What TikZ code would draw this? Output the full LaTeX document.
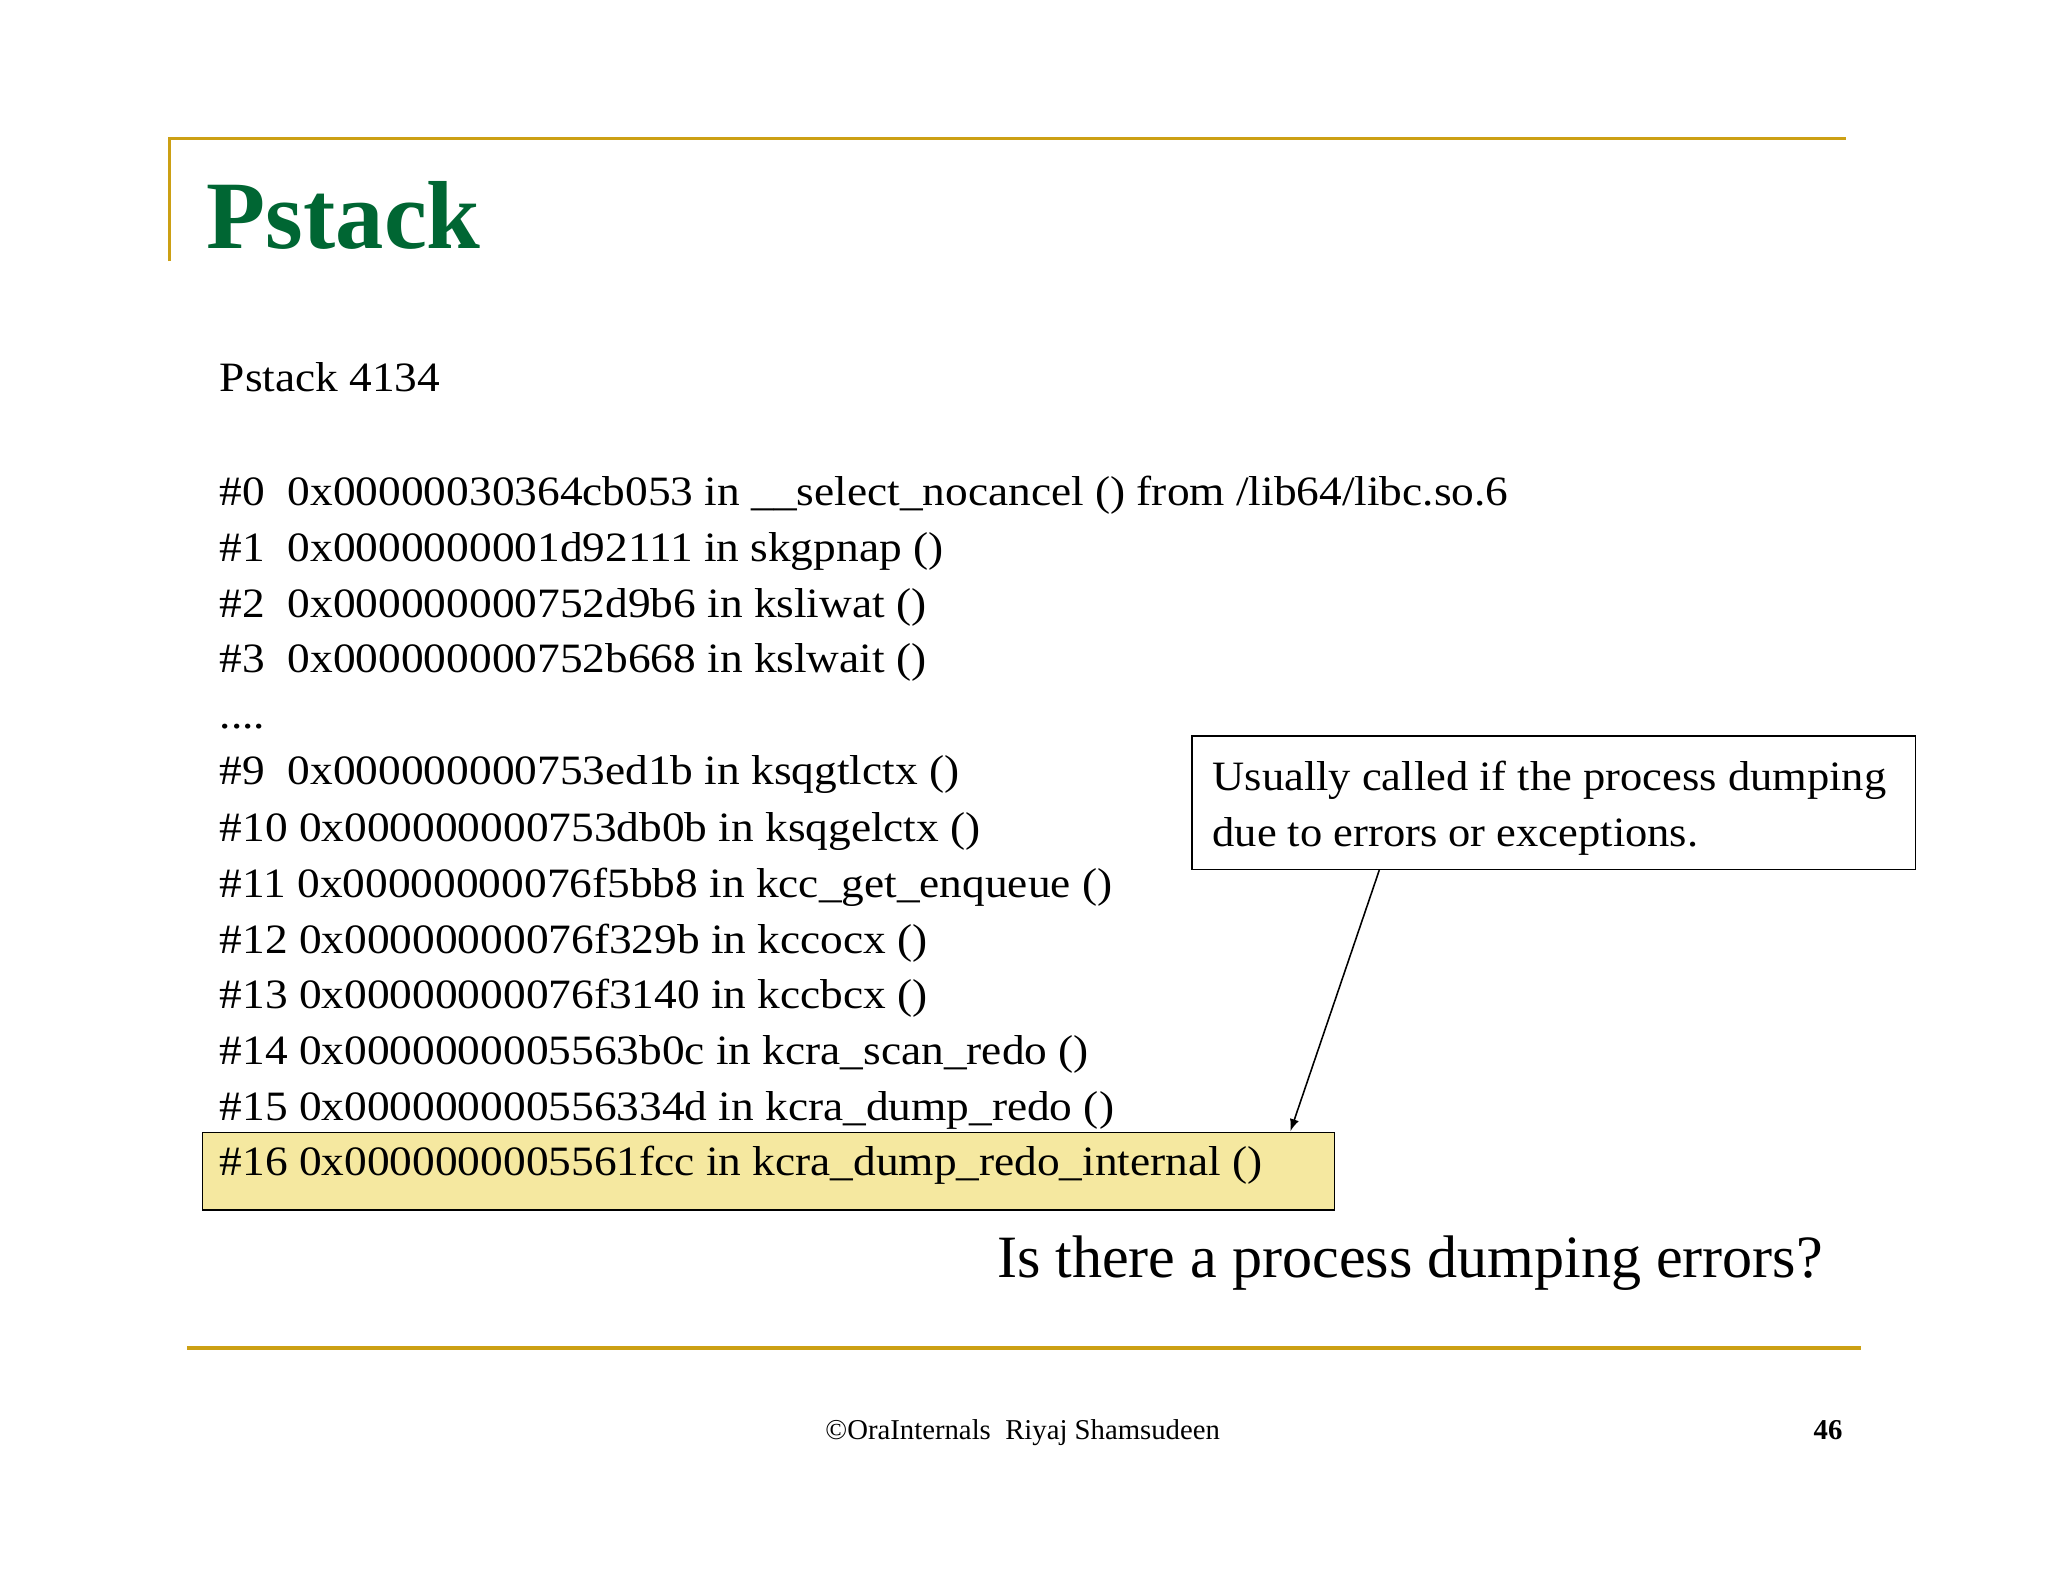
\documentclass[tikz,border=0pt]{standalone}
\usepackage{fontspec}
\setmainfont{Liberation Serif}
\newfontfamily\wideserif[FakeStretch=1.085]{Liberation Serif}
\newfontfamily\midserif[FakeStretch=1.065]{Liberation Serif}
\begin{document}
\begin{tikzpicture}[x=0.5pt,y=-0.5pt,
  body/.style={anchor=base west,inner sep=0pt,font=\wideserif\fontsize{16}{19}\selectfont},
  cbody/.style={anchor=base west,inner sep=0pt,font=\midserif\fontsize{16}{19}\selectfont},
  gold/.style={draw={rgb,255:red,204;green,160;blue,20},line width=1.3pt}]
\definecolor{titlegreen}{RGB}{0,102,51}
\definecolor{hl}{RGB}{245,232,160}
\useasboundingbox (0,0) rectangle (1568,1211);
\fill[white] (0,0) rectangle (1568,1211);
\draw[gold] (130,200) -- (130,106) -- (1413,106);
\draw[gold] (143,1032) -- (1425,1032);
\node[anchor=base west,inner sep=0pt,text=titlegreen,font=\fontsize{37}{40}\selectfont\bfseries] (title) at (158,190) {Pstack};
\node[draw=black,fill=hl,minimum width=433pt,minimum height=29.5pt,inner sep=0pt,anchor=north west] (hlbox) at (155,867) {};
\node[body] (l0) at (168,300) {Pstack 4134};
\node[body] (a0) at (168,387) {\#0\ \ 0x00000030364cb053 in \_\_select\_nocancel () from /lib64/libc.so.6};
\node[body] (a1) at (168,430) {\#1\ \ 0x0000000001d92111 in skgpnap ()};
\node[body] (a2) at (168,473) {\#2\ \ 0x000000000752d9b6 in ksliwat ()};
\node[body] (a3) at (168,515) {\#3\ \ 0x000000000752b668 in kslwait ()};
\node[body] (a4) at (168,558) {....};
\node[body] (a9) at (168,601) {\#9\ \ 0x000000000753ed1b in ksqgtlctx ()};
\node[body] (a10) at (168,644) {\#10 0x000000000753db0b in ksqgelctx ()};
\node[body] (a11) at (168,687) {\#11 0x00000000076f5bb8 in kcc\_get\_enqueue ()};
\node[body] (a12) at (168,730) {\#12 0x00000000076f329b in kccocx ()};
\node[body] (a13) at (168,772) {\#13 0x00000000076f3140 in kccbcx ()};
\node[body] (a14) at (168,815) {\#14 0x0000000005563b0c in kcra\_scan\_redo ()};
\node[body] (a15) at (168,858) {\#15 0x000000000556334d in kcra\_dump\_redo ()};
\node[body] (a16) at (168,900) {\#16 0x0000000005561fcc in kcra\_dump\_redo\_internal ()};
\node[draw=black,line width=0.6pt,minimum width=277pt,minimum height=51pt,anchor=north west] (call) at (912,563) {};
\node[cbody] (c1) at (928,605) {Usually called if the process dumping};
\node[cbody] (c2) at (928,648) {due to errors or exceptions.};
\coordinate (tip) at (988,866);
\draw[-latex,line width=0.6pt] (call.south west) ++(144,0) coordinate (s) -- (tip);
\node[anchor=base west,inner sep=0pt,font=\fontsize{23}{26}\selectfont] (q) at (763,978) {Is there a process dumping errors?};
\node[anchor=base,inner sep=0pt,font=\fontsize{11}{13}\selectfont] (foot) at (783,1102) {\textcopyright OraInternals\ \ Riyaj Shamsudeen};
\node[anchor=base east,inner sep=0pt,font=\fontsize{11}{13}\selectfont\bfseries] (pg) at (1411,1102) {46};
\end{tikzpicture}
\end{document}
